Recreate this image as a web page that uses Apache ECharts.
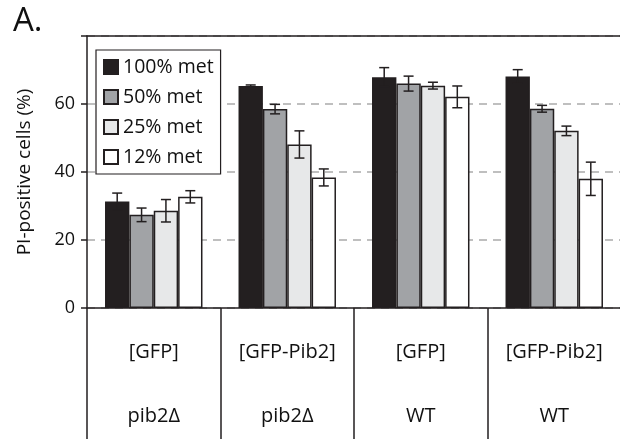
<!DOCTYPE html>
<html><head><meta charset="utf-8">
<script src="https://cdn.jsdelivr.net/npm/echarts@6/dist/echarts.min.js"></script>
<style>html,body{margin:0;padding:0;background:#fff}#c{width:620px;height:439px}</style>
</head><body><div id="c"></div>
<script>
var plasmids = ['[GFP]', '[GFP-Pib2]', '[GFP]', '[GFP-Pib2]'];
var strains = ['pib2\u0394', 'pib2\u0394', 'WT', 'WT'];
var seriesNames = ['100% met', '50% met', '25% met', '12% met'];
var met100 = [31.3, 65.3, 67.9, 68.1];
var met50  = [27.4, 58.5, 66.0, 58.6];
var met25  = [28.6, 48.1, 65.4, 52.1];
var met12  = [32.7, 38.4, 62.1, 38.0];
var err100 = [2.5, 0.3, 2.8, 2.0];
var err50  = [2.0, 1.4, 2.2, 1.0];
var err25  = [3.3, 4.0, 1.0, 1.4];
var err12  = [1.8, 2.5, 3.2, 4.9];
var yTicks = [0, 20, 40, 60, 80];
var yShownTicks = ['0', '20', '40', '60', ''];

var values = [met100, met50, met25, met12];
var errors = [err100, err50, err25, err12];
var fills = ['#231f20', '#a1a3a6', '#e7e8e9', '#ffffff'];
var GAP = 0.27;
var FONT = '"Open Sans", "Noto Sans", sans-serif';
var TXT = '#111';
var categories = plasmids.map(function(p, i){ return p + '\n' + strains[i]; });

var series = values.map(function(v, i){
  return {
    name: seriesNames[i], type: 'bar', data: v,
    barGap: 0, barCategoryGap: (GAP*100) + '%',
    itemStyle: {color: fills[i], borderColor: '#231f20', borderWidth: 1.5},
    z: 2
  };
});
var errData = [];
errors.forEach(function(e, s){
  e.forEach(function(val, c){ errData.push([c, values[s][c], val, s]); });
});
series.push({
  type: 'custom', z: 5,
  data: errData,
  encode: {x: 0, y: 1},
  renderItem: function(params, api){
    var cat = api.value(0), val = api.value(1), err = api.value(2), idx = api.value(3);
    var band = api.size([1, 0])[0];
    var bw = band * (1 - GAP) / 4;
    var c = api.coord([cat, val]);
    var x = c[0] + (idx - 1.5) * bw;
    var top = api.coord([cat, val + err])[1];
    var bot = api.coord([cat, val - err])[1];
    var hw = 5;
    var st = {stroke: '#231f20', lineWidth: 1.5};
    return {type: 'group', children: [
      {type: 'line', shape: {x1: x, y1: top, x2: x, y2: bot}, style: st},
      {type: 'line', shape: {x1: x - hw, y1: top, x2: x + hw, y2: top}, style: st},
      {type: 'line', shape: {x1: x - hw, y1: bot, x2: x + hw, y2: bot}, style: st}
    ]};
  }
});

var chart = echarts.init(document.getElementById('c'), null, {renderer: 'canvas'});
chart.setOption({
  animation: false,
  backgroundColor: '#fff',
  title: {text: 'A.', left: 8, top: 0, textStyle: {fontFamily: FONT, fontSize: 33, fontWeight: 'normal', color: TXT}},
  grid: {left: 87, right: -1, top: 36, bottom: 131, outerBoundsMode: 'none', containLabel: false},
  legend: {
    data: seriesNames, orient: 'vertical', left: 96, top: 50,
    backgroundColor: '#fff', borderColor: '#231f20', borderWidth: 1.2,
    padding: [7, 7, 7, 7], itemGap: 10, itemWidth: 14, itemHeight: 14,
    icon: 'rect',
    textStyle: {fontFamily: FONT, fontSize: 19.5, color: TXT}
  },
  xAxis: [{
    type: 'category', data: categories,
    axisLine: {lineStyle: {color: '#231f20', width: 1.5}},
    axisTick: {show: true, interval: 0, length: 131, lineStyle: {color: '#231f20', width: 1.5}},
    axisLabel: {interval: 0, margin: 12, lineHeight: 64, fontFamily: FONT, fontSize: 20, color: TXT}
  }, {
    type: 'category', data: categories, position: 'top',
    axisLine: {lineStyle: {color: '#231f20', width: 1.5}},
    axisTick: {show: false}, axisLabel: {show: false}
  }],
  yAxis: {
    type: 'value', min: yTicks[0], max: yTicks[yTicks.length - 1], interval: 20,
    name: 'PI-positive cells (%)', nameLocation: 'middle', nameGap: 53,
    nameTextStyle: {fontFamily: FONT, fontSize: 19, color: TXT},
    axisLine: {show: true, lineStyle: {color: '#231f20', width: 1.5}},
    axisTick: {show: true, length: 6, lineStyle: {color: '#231f20', width: 1.5}},
    axisLabel: {margin: 12, fontFamily: FONT, fontSize: 18, color: TXT,
      formatter: function(v){ return yShownTicks[yTicks.indexOf(v)]; }},
    splitLine: {show: true, lineStyle: {color: '#ababab', type: [8, 6], width: 1.5}}
  },
  series: series
});
</script></body></html>
